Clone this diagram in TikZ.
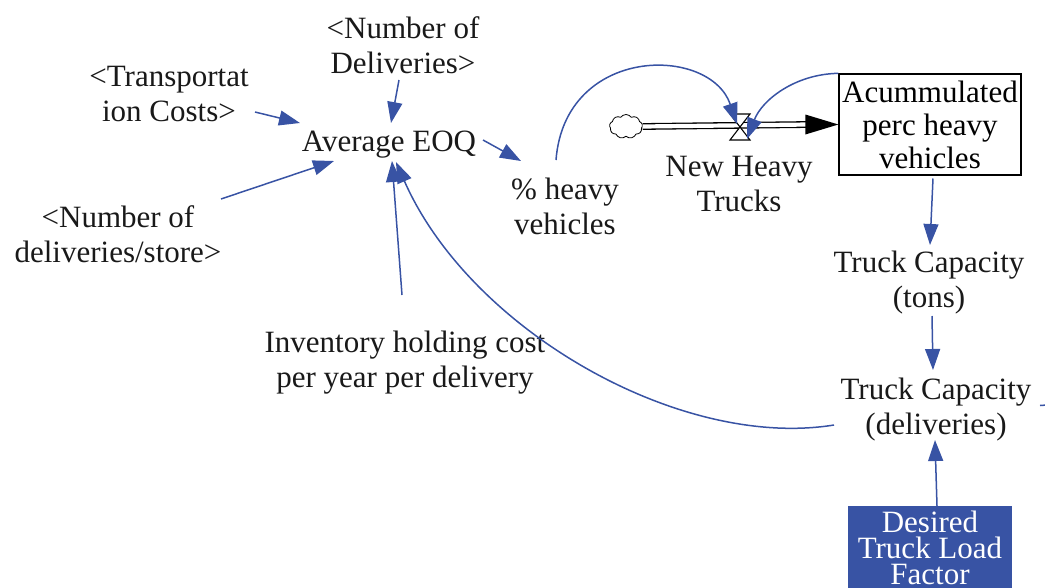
\documentclass[tikz,border=0pt]{standalone}
\usepackage{fontspec}
\setmainfont{Liberation Serif}
\usetikzlibrary{arrows.meta,shapes.symbols}
\definecolor{vblue}{RGB}{56,83,164}
\begin{document}
\begin{tikzpicture}[x=1pt,y=-1pt,
  txt/.style={font=\fontsize{31}{35}\selectfont,align=center,inner sep=0pt,text=black!90},
  link/.style={draw=vblue,line width=1.5pt,-{Triangle[length=21pt,width=15pt]}},
  stock/.style={draw=black,line width=1.3pt,font=\fontsize{31}{33}\selectfont,align=center,
    minimum width=182pt,minimum height=101pt,inner sep=0pt},
  shadow/.style={fill=vblue,text=white,font=\fontsize{31}{25.8}\selectfont,align=center,
    minimum width=164pt,inner xsep=0pt,inner ysep=5pt}]
\useasboundingbox (0,0) rectangle (1045,587);
% nodes
\node[txt] (ndel) at (403,45) {<Number of\\Deliveries>};
\node[txt] (trans) at (169,94) {<Transportat\\ion Costs>};
\node[txt] (eoq) at (389,145) {Average EOQ};
\node[txt] (ndps) at (118,234) {<Number of\\deliveries/store>};
\node[txt] (inv) at (405,363) {Inventory holding cost\\per year per delivery};
\node[txt] (pct) at (565,206) {\% heavy\\vehicles};
\node[txt] (nht) at (739,184) {New Heavy\\Trucks};
\node[stock] (acc) at (930,124.5) {Acummulated\\perc heavy\\vehicles};
\node[txt] (tct) at (929,283) {Truck Capacity\\(tons)};
\node[txt] (tcd) at (936,410) {Truck Capacity\\(deliveries)};
\node[shadow,anchor=north] (dtlf) at (930,506) {Desired\\Truck Load\\Factor};
\node[cloud,cloud puffs=9,cloud puff arc=110,draw=black,line width=0.8pt,
  minimum width=33pt,minimum height=24pt,inner sep=0pt] (cloud) at (626,126.5) {};
\coordinate (valve) at (740,127);
% flow pipe
\draw[line width=1.3pt,double=white,double distance=4.2pt] (cloud.east) -- ([xshift=-30pt]acc.west);
\fill[black] (acc.west) -- ++(-33,-10) -- ++(0,20) -- cycle;
\draw[line width=1.1pt,fill=white] ([shift={(-10,-13)}]valve) -- ++(20,0) -- ++(-20,26) -- ++(20,0) -- cycle;
% links
\draw[link] ([shift={(86,18)}]trans.center) -- ([shift={(-89,-22)}]eoq.center);
\draw[link] ([shift={(-4,35)}]ndel.center) -- ([shift={(2,-22)}]eoq.center);
\draw[link] ([shift={(103,-35)}]ndps.center) -- ([shift={(-55,16)}]eoq.center);
\draw[link] ([shift={(-3,-68)}]inv.center) -- ([shift={(3,16)}]eoq.center);
\draw[link] ([shift={(-102,15)}]tcd.center) .. controls (680,450) and (470,330) .. ([shift={(7,17)}]eoq.center);
\draw[link] ([shift={(94,-5)}]eoq.center) -- ([shift={(-44,-45)}]pct.center);
\draw[link] ([shift={(-9,-46)}]pct.center) .. controls (565,45) and (710,45) .. ([shift={(-3,-3)}]valve);
\draw[link] (acc.north west) .. controls (795,74) and (762,100) .. ([shift={(7,12)}]valve);
\draw[link] ([shift={(3,54)}]acc.center) -- ([shift={(1,-38)}]tct.center);
\draw[link] ([shift={(3,33)}]tct.center) -- ([shift={(-3,-40)}]tcd.center);
\draw[link] ([shift={(7,0)}]dtlf.north) -- ([shift={(-1,30)}]tcd.center);
\coordinate (stubA) at (1040,405.5);
\coordinate (stubB) at (1047,405);
\draw[draw=vblue,line width=1.5pt] (stubA) -- (stubB);
\end{tikzpicture}
\end{document}
